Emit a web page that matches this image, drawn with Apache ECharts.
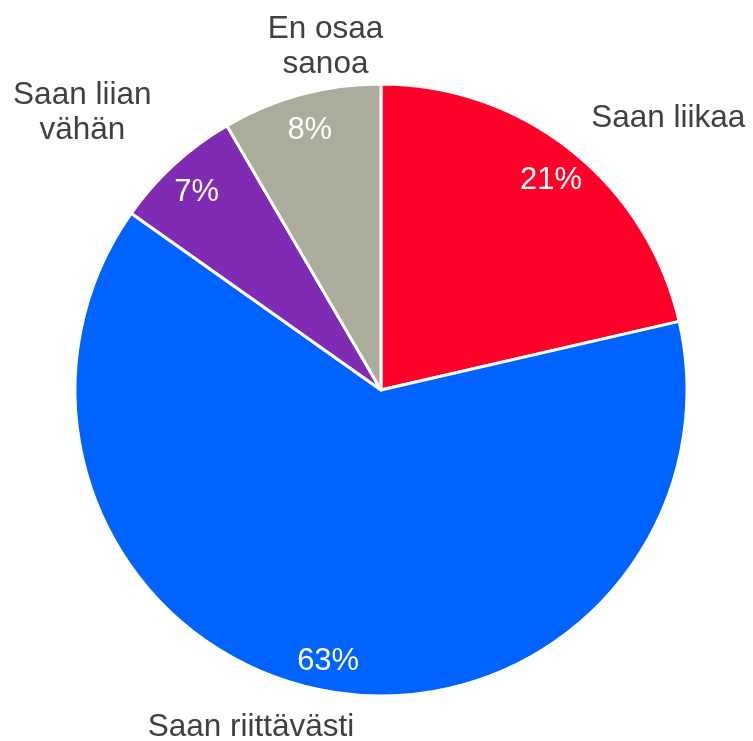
<!DOCTYPE html>
<html>
<head>
<meta charset="utf-8">
<script src="https://cdn.jsdelivr.net/npm/echarts@6/dist/echarts.min.js"></script>
<style>
  html, body { margin: 0; padding: 0; background: #fff; }
  #chart { width: 753px; height: 741px; }
</style>
</head>
<body>
<div id="chart"></div>
<script>
// vastaukset, myötäpäivään ylhäältä
var categories = ['Saan liikaa', 'Saan riittävästi', 'Saan liian vähän', 'En osaa sanoa'];
var labelText = ['Saan liikaa', 'Saan riittävästi', 'Saan liian\nvähän', 'En osaa\nsanoa'];
var values = [21.4, 63.4, 6.8, 8.4];
var colors = ['#FF0029', '#0062FF', '#7F2BB4', '#ACAC9D'];

var cx = 381, cy = 390, R = 306;
var total = values.reduce(function (a, b) { return a + b; }, 0);

// keskikulma (radiaaneina, ylhäältä myötäpäivään)
function midAngle(i) {
  var cum = 0;
  for (var k = 0; k < i; k++) cum += values[k];
  return (cum + values[i] / 2) / total * 2 * Math.PI;
}
function clamp(v) { return Math.max(-1, Math.min(1, v)); }

// pieni hienosäätö nimiöille (px)
var labelNudge = [[4, 5], [-26, -5], [-6, 2], [61, 11]];

var data = categories.map(function (c, i) {
  return { name: c, value: values[i], itemStyle: { color: colors[i] } };
});

var myChart = echarts.init(document.getElementById('chart'));
myChart.setOption({
  animation: false,
  series: [
    {
      type: 'pie',
      center: [cx, cy],
      radius: [0, R],
      startAngle: 90,
      clockwise: true,
      silent: true,
      data: data,
      itemStyle: { borderColor: '#fff', borderWidth: 3 },
      label: {
        show: true,
        position: 'outside',
        alignTo: 'none',
        overflow: 'none',
        formatter: function (p) { return labelText[p.dataIndex]; },
        color: '#404040',
        fontSize: 31.5,
        lineHeight: 35,
        fontFamily: 'Liberation Sans, Arial, sans-serif',
        align: 'center'
      },
      labelLine: { show: false },
      labelLayout: function (p) {
        var a = midAngle(p.dataIndex);
        var s = Math.sin(a), c = Math.cos(a);
        var ax = cx + s * (R + 25), ay = cy - c * (R + 25);
        var w = p.labelRect.width, h = p.labelRect.height;
        var n = labelNudge[p.dataIndex];
        return {
          x: ax + w / 2 * clamp(2 * s) + n[0],
          y: ay + h / 2 * clamp(-2 * c) + n[1],
          align: 'center',
          verticalAlign: 'middle'
        };
      }
    },
    {
      // läpinäkyvä rengas prosenttinimiöille
      type: 'pie',
      center: [cx, cy],
      radius: [R * 0.765, R],
      startAngle: 90,
      clockwise: true,
      silent: true,
      data: data.map(function (d) {
        return { name: d.name, value: d.value, itemStyle: { color: 'rgba(0,0,0,0)' } };
      }),
      label: {
        show: true,
        position: 'inside',
        formatter: function (p) { return Math.round(p.percent) + '%'; },
        color: '#fff',
        fontSize: 31,
        fontFamily: 'Liberation Sans, Arial, sans-serif'
      },
      labelLine: { show: false },
      labelLayout: { dy: 4 }
    }
  ]
});
</script>
</body>
</html>
